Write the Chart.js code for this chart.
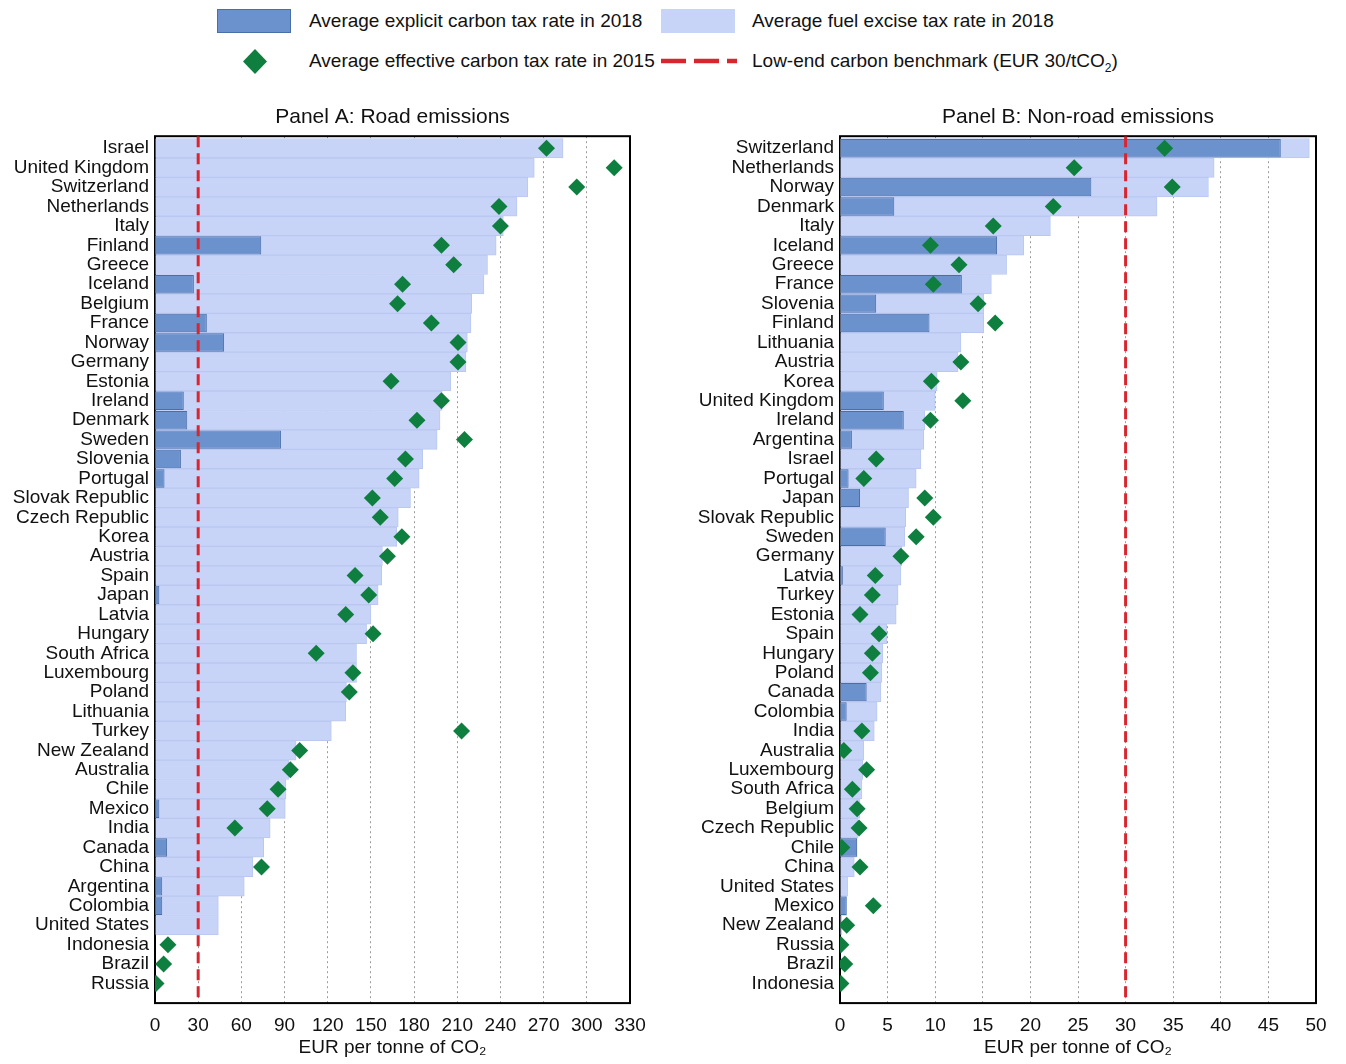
<!DOCTYPE html>
<html>
<head>
<meta charset="utf-8">
<script src="https://cdn.jsdelivr.net/npm/chart.js@4.4.1/dist/chart.umd.min.js"></script>
<style>
  body { margin: 0; background: #fff; width: 1346px; height: 1064px; position: relative; overflow: hidden;
         font-family: 'Liberation Sans', Arial, sans-serif; color: #111; }
  .abs { position: absolute; }
  .lg { position: absolute; font-size: 19px; line-height: 24px; white-space: nowrap; }
</style>
</head>
<body>

<!-- legend -->
<div class="abs" style="left:217px;top:9px;width:72px;height:22px;background:#6b92cc;border:1px solid #4a6fa8"></div>
<div class="lg" style="left:309px;top:9px">Average explicit carbon tax rate in 2018</div>
<div class="abs" style="left:661px;top:9px;width:74px;height:24px;background:#c8d3f8"></div>
<div class="lg" style="left:752px;top:9px">Average fuel excise tax rate in 2018</div>
<svg class="abs" style="left:242px;top:49px" width="26" height="25"><polygon points="13,0 25,12.5 13,25 1,12.5" fill="#0e7f3f"/></svg>
<div class="lg" style="left:309px;top:49px">Average effective carbon tax rate in 2015</div>
<svg class="abs" style="left:660px;top:56px" width="78" height="10"><line x1="1" y1="5" x2="77" y2="5" stroke="#d7262f" stroke-width="4.5" stroke-dasharray="25 8"/></svg>
<div class="lg" style="left:752px;top:49px">Low-end carbon benchmark (EUR 30/tCO<sub style="font-size:12px">2</sub>)</div>

<div class="abs" style="left:0px;top:95px;width:660px;height:969px"><canvas id="road"></canvas></div>
<div class="abs" style="left:680px;top:95px;width:666px;height:969px"><canvas id="nonroad"></canvas></div>

<script>
var FONT = "'Liberation Sans', Arial, sans-serif";
var benchmark = 30;

// Panel A: road emissions
var roadCountries = ['Israel', 'United Kingdom', 'Switzerland', 'Netherlands', 'Italy', 'Finland', 'Greece', 'Iceland',
  'Belgium', 'France', 'Norway', 'Germany', 'Estonia', 'Ireland', 'Denmark', 'Sweden', 'Slovenia', 'Portugal',
  'Slovak Republic', 'Czech Republic', 'Korea', 'Austria', 'Spain', 'Japan', 'Latvia', 'Hungary', 'South Africa',
  'Luxembourg', 'Poland', 'Lithuania', 'Turkey', 'New Zealand', 'Australia', 'Chile', 'Mexico', 'India', 'Canada',
  'China', 'Argentina', 'Colombia', 'United States', 'Indonesia', 'Brazil', 'Russia'];
var roadExplicit = [0, 0, 0, 0, 0, 73.8, 0, 27, 0, 36, 48, 0, 0, 20, 22.4, 87.5, 18, 6.6,
  0, 0, 0, 0, 0, 3, 0, 0, 0, 0, 0, 0, 0, 0, 0, 0, 3, 0, 8.4, 0, 5, 5, 0, 0, 0, 0];
var roadExcise = [283.5, 263.5, 259, 251.5, 242, 237, 231, 228.5, 220, 219.5, 217, 216, 205.5, 199.5, 198, 196, 186, 183.5,
  177.5, 169, 168, 158, 157.5, 155, 150, 147, 140, 140, 133, 132.5, 122.5, 98, 93, 91, 90.5, 80, 75.5,
  68, 62, 44, 44, 0, 0, 0];
var roadEffective = [272, 319, 293, 239, 240, 199, 207.5, 172, 168.5, 192, 210.5, 210.5, 164, 199, 182, 215, 174, 166.5,
  151, 156.5, 171.5, 161.5, 139, 148.5, 132.5, 151.5, 112, 137.5, 135, null, 213, 100.5, 94, 85.5, 78, 55.5, null,
  74, null, null, null, 9, 6, 0.7];
var roadTicks = [0, 30, 60, 90, 120, 150, 180, 210, 240, 270, 300, 330];

// Panel B: non-road emissions
var nonRoadCountries = ['Switzerland', 'Netherlands', 'Norway', 'Denmark', 'Italy', 'Iceland', 'Greece', 'France',
  'Slovenia', 'Finland', 'Lithuania', 'Austria', 'Korea', 'United Kingdom', 'Ireland', 'Argentina', 'Israel',
  'Portugal', 'Japan', 'Slovak Republic', 'Sweden', 'Germany', 'Latvia', 'Turkey', 'Estonia', 'Spain', 'Hungary',
  'Poland', 'Canada', 'Colombia', 'India', 'Australia', 'Luxembourg', 'South Africa', 'Belgium', 'Czech Republic',
  'Chile', 'China', 'United States', 'Mexico', 'New Zealand', 'Russia', 'Brazil', 'Indonesia'];
var nonRoadExplicit = [46.3, 0, 26.4, 5.7, 0, 16.5, 0, 12.8, 3.8, 9.4, 0, 0, 0, 4.6, 6.7, 1.25, 0,
  0.9, 2.1, 0, 4.8, 0, 0.3, 0, 0, 0, 0, 0, 2.8, 0.7, 0, 0, 0, 0, 0, 0,
  1.8, 0, 0, 0.7, 0, 0, 0, 0];
var nonRoadExcise = [49.3, 39.3, 38.7, 33.3, 22.1, 19.3, 17.5, 15.9, 15.1, 15.1, 12.7, 12.4, 10.2, 10, 8.9, 8.8, 8.5,
  8.0, 7.2, 6.9, 6.8, 6.5, 6.4, 6.1, 5.9, 4.9, 4.5, 4.4, 4.3, 3.9, 3.6, 2.5, 2.4, 2.3, 2.1, 1.9,
  1.8, 1.5, 0.8, 0.7, 0.2, 0, 0, 0];
var nonRoadEffective = [34.1, 24.6, 34.9, 22.4, 16.1, 9.5, 12.5, 9.8, 14.5, 16.3, null, 12.7, 9.6, 12.9, 9.5, null, 3.8,
  2.5, 8.9, 9.8, 8.0, 6.4, 3.7, 3.4, 2.1, 4.1, 3.4, 3.2, null, null, 2.3, 0.4, 2.8, 1.3, 1.8, 2.0,
  0.2, 2.1, null, 3.5, 0.7, 0.1, 0.5, 0.1];
var nonRoadTicks = [0, 5, 10, 15, 20, 25, 30, 35, 40, 45, 50];

// black box round the plot area
var frame = {
  id: 'frame',
  beforeDatasetsDraw(chart) {
    var a = chart.chartArea, ctx = chart.ctx;
    ctx.save();
    ctx.strokeStyle = '#000';
    ctx.lineWidth = 2;
    ctx.strokeRect(a.left, a.top, a.right - a.left, a.bottom - a.top);
    ctx.restore();
  }
};

function points(arr) {
  return arr.map(function(v, i) { return {x: v, y: i}; })
            .filter(function(p) { return p.x !== null && p.x > 0; });
}
function pointsKeepZero(arr) {
  return arr.map(function(v, i) { return {x: v, y: i}; })
            .filter(function(p) { return p.x !== null; });
}

function makePanel(id, title, countries, explicit, excise, effective, ticks, yWidth) {
  var yMin = -0.62, yMax = countries.length + 0.01;
  return new Chart(id, {
    type: 'bar',
    data: {
      datasets: [
        {
          label: 'Average effective carbon tax rate in 2015',
          type: 'scatter',
          data: pointsKeepZero(effective),
          pointStyle: 'rectRot',
          pointRadius: 8.5,
          backgroundColor: '#0e7f3f',
          borderWidth: 0,
          order: 0
        },
        {
          label: 'Low-end carbon benchmark (EUR 30/tCO2)',
          type: 'line',
          data: [{x: benchmark, y: yMin}, {x: benchmark, y: yMax}],
          borderColor: '#d7262f',
          borderWidth: 3,
          borderDash: [11, 6],
          pointRadius: 0,
          order: 1
        },
        {
          label: 'Average explicit carbon tax rate in 2018',
          data: points(explicit),
          backgroundColor: '#6b92cc',
          borderColor: '#4a6fa8',
          borderWidth: 1,
          grouped: false,
          categoryPercentage: 1,
          barPercentage: 0.95,
          order: 2
        },
        {
          label: 'Average fuel excise tax rate in 2018',
          data: points(excise),
          backgroundColor: '#c8d3f8',
          borderColor: '#bac8f1',
          borderWidth: 1,
          grouped: false,
          categoryPercentage: 1,
          barPercentage: 1,
          order: 3
        }
      ]
    },
    options: {
      indexAxis: 'y',
      responsive: true,
      maintainAspectRatio: false,
      animation: false,
      layout: { padding: { left: 0, right: 30, top: 0, bottom: 6 } },
      plugins: {
        legend: { display: false },
        tooltip: { enabled: false },
        title: {
          display: true,
          text: title,
          fullSize: false,
          color: '#111',
          font: { family: FONT, size: 21, weight: 'normal' },
          padding: { top: 10, bottom: 6 }
        }
      },
      scales: {
        x: {
          type: 'linear',
          min: ticks[0],
          max: ticks[ticks.length - 1],
          afterBuildTicks: function(s) { s.ticks = ticks.map(function(v) { return {value: v}; }); },
          grid: { color: '#9c9c9c', lineWidth: 1, drawTicks: false },
          border: { display: false, dash: [2, 3] },
          ticks: { color: '#111', font: { family: FONT, size: 19 }, padding: 11.6 },
          title: {
            display: true,
            text: 'EUR per tonne of CO₂',
            color: '#111',
            font: { family: FONT, size: 19, lineHeight: 1.1 },
            padding: { top: -12, bottom: 0 }
          }
        },
        y: {
          type: 'linear',
          reverse: true,
          offset: false,
          min: yMin,
          max: yMax,
          afterBuildTicks: function(s) { s.ticks = countries.map(function(c, i) { return {value: i}; }); },
          afterFit: function(s) { s.width = yWidth; },
          grid: { display: false, drawTicks: false, offset: false },
          border: { display: false },
          ticks: {
            autoSkip: false,
            color: '#111',
            font: { family: FONT, size: 19 },
            padding: 6,
            callback: function(v) { return countries[Math.round(v)]; }
          }
        }
      }
    },
    plugins: [frame]
  });
}

makePanel('road', 'Panel A: Road emissions', roadCountries, roadExplicit, roadExcise, roadEffective, roadTicks, 155);
makePanel('nonroad', 'Panel B: Non-road emissions', nonRoadCountries, nonRoadExplicit, nonRoadExcise, nonRoadEffective, nonRoadTicks, 160);
</script>
</body>
</html>
